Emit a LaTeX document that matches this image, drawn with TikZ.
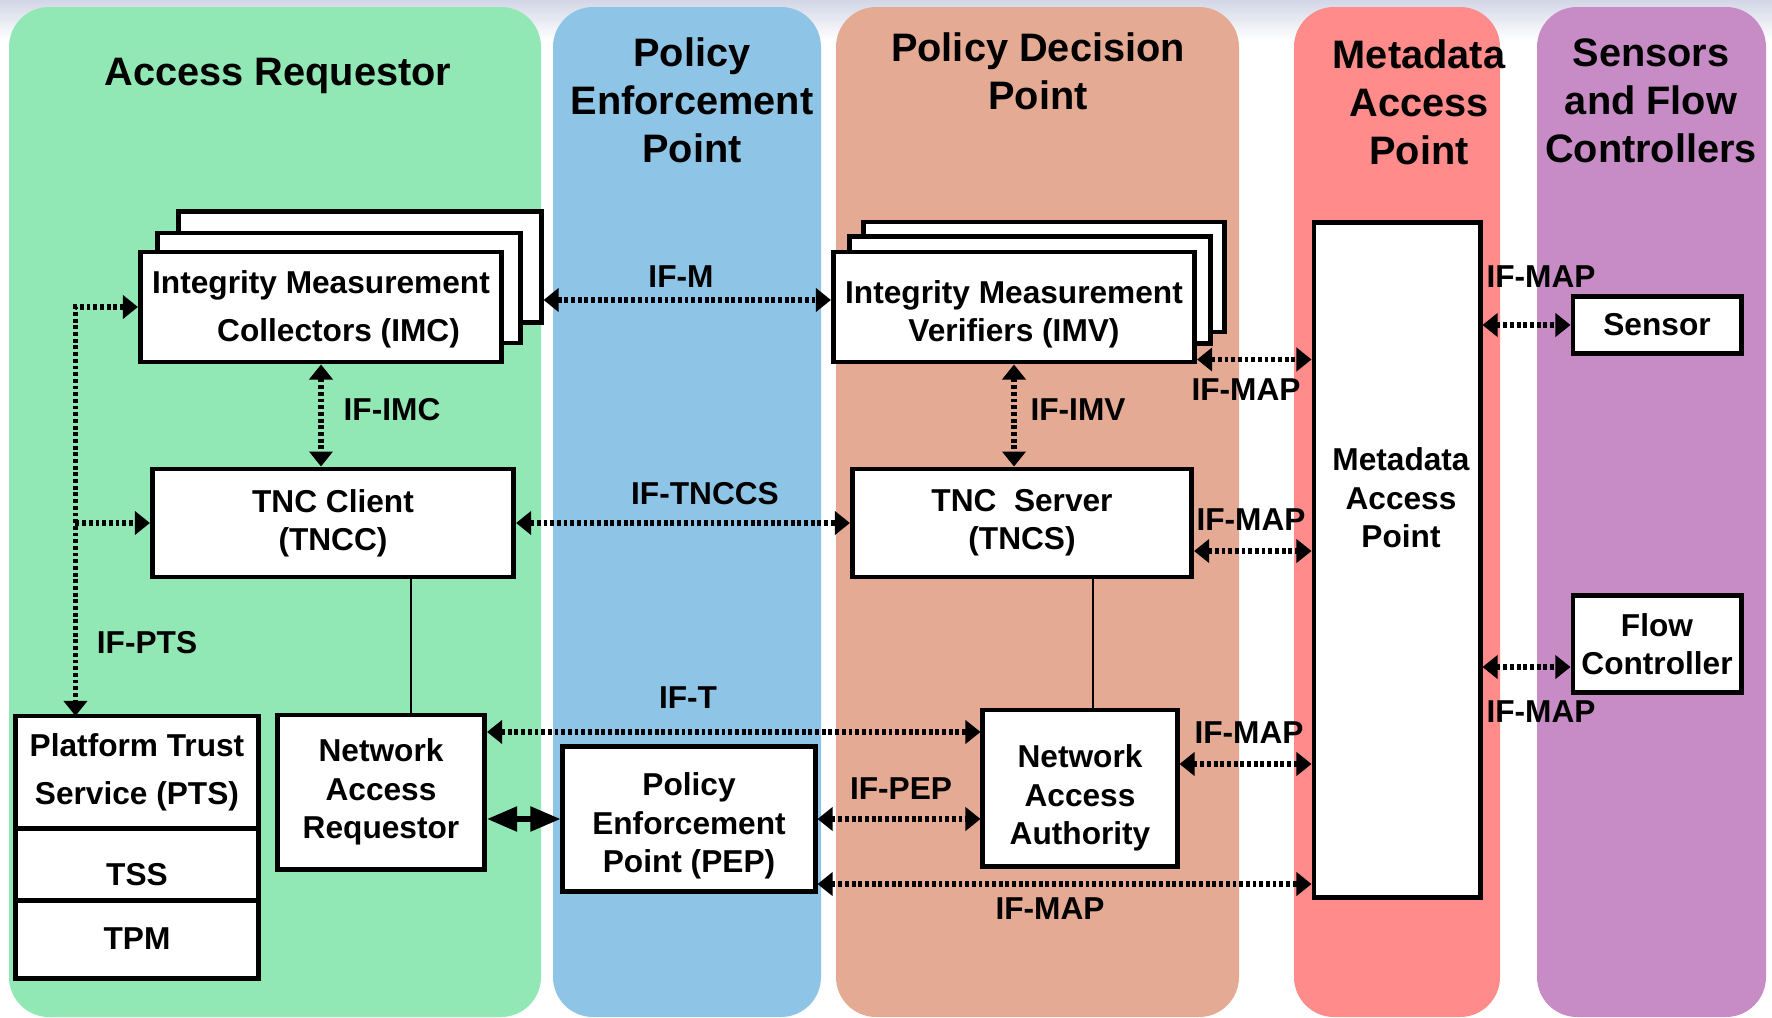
\documentclass[tikz,border=0pt]{standalone}
\usepackage{fontspec}
\setmainfont{Liberation Sans}
\usepackage{xcolor}
\usetikzlibrary{positioning,calc,arrows.meta}

\definecolor{arGreen}{RGB}{145,232,181}
\definecolor{pepBlue}{RGB}{142,197,230}
\definecolor{pdpTan}{RGB}{228,170,147}
\definecolor{mapPink}{RGB}{255,139,139}
\definecolor{sfcPurple}{RGB}{199,140,198}
\definecolor{skyTop}{RGB}{210,214,230}

\begin{document}
\begin{tikzpicture}[x=0.01cm, y=-0.01cm,
        lane/.style={rounded corners=0.4cm},
        lanetitle/.style={font=\bfseries\fontsize{11.3}{13.6}\selectfont, align=center, inner sep=0},
        block/.style={rectangle, draw, line width=1.4pt, fill=white, align=center, inner sep=0, font=\bfseries\fontsize{9}{10.9}\selectfont},
        tall/.style={font=\bfseries\fontsize{9}{13.7}\selectfont},
        lbl/.style={font=\bfseries\fontsize{9}{10.9}\selectfont, align=center, inner sep=0},
        ifarrow/.tip={Triangle[length=1.5mm,width=2.3mm]},
        iface/.style={draw, line width=1.6pt, dash pattern=on 1.1pt off 0.8pt, ifarrow-ifarrow},
        ifone/.style={iface, -ifarrow},
        link/.style={draw, line width=0.6pt},
        bus/.style={draw, line width=1.5pt, {Triangle[length=3mm,width=2.4mm]}-{Triangle[length=3mm,width=2.4mm]}}]
        \useasboundingbox (0,0) rectangle (1772,1018);
        \shade[top color=skyTop, bottom color=white] (0,0) rectangle (1772,40);
        \foreach \xa/\xb/\col in {9/541/arGreen, 553/821/pepBlue, 836/1239/pdpTan, 1294/1500/mapPink, 1537/1766/sfcPurple}
            \fill[lane, \col] (\xa,7) rectangle (\xb,1017);

        \node [lanetitle] (arTitle) at (278,76) {Access Requestor};
        \node [lanetitle] (pepTitle) at (692,100) {Policy\\Enforcement\\Point};
        \node [lanetitle] (pdpTitle) at (1038,71) {Policy Decision\\Point};
        \node [lanetitle] (mapTitle) at (1419,102) {Metadata\\Access\\Point};
        \node [lanetitle] (sfcTitle) at (1651,101) {Sensors\\and Flow\\Controllers};

        \node [block, minimum width=3.62cm, minimum height=1.11cm] (imcC) at (360,267) {};
        \node [block, minimum width=3.62cm, minimum height=1.10cm] (imcB) at (339,288) {};
        \node [block, tall, minimum width=3.61cm, minimum height=1.10cm] (imc) at (321,307) {\rule{0pt}{0.27cm}Integrity Measurement\\\hspace*{0.35cm}Collectors (IMC)};
        \node [block, minimum width=3.61cm, minimum height=1.08cm] (tncc) at (333,523) {TNC Client\\(TNCC)};

        \node [block, minimum width=3.61cm, minimum height=1.10cm] (imvC) at (1044,277) {};
        \node [block, minimum width=3.60cm, minimum height=1.07cm] (imvB) at (1030,290) {};
        \node [block, minimum width=3.61cm, minimum height=1.10cm] (imv) at (1014,307) {\rule{0pt}{0.37cm}Integrity Measurement\\Verifiers (IMV)};
        \node [block, minimum width=3.39cm, minimum height=1.08cm] (tncs) at (1022,523) {TNC~~Server\\(TNCS)};

        \node [block, minimum width=1.66cm, minimum height=6.74cm] (map) at (1397,560) {};
        \node [lbl] (mapText) at (1401,498) {Metadata\\Access\\Point};
        \node [block, minimum width=1.68cm, minimum height=0.57cm] (sensor) at (1657,325) {Sensor};
        \node [block, minimum width=1.68cm, minimum height=0.97cm] (flow) at (1657,644) {Flow\\Controller};

        \node [block, tall, outer sep=0pt, minimum width=2.43cm, minimum height=1.12cm] (pts) at (137,772) {Platform Trust\\Service (PTS)};
        \node [block, outer sep=0pt, minimum width=2.43cm, minimum height=0.72cm, below=0pt of pts] (tss) {\rule{0pt}{0.43cm}TSS};
        \node [block, outer sep=0pt, minimum width=2.43cm, minimum height=0.78cm, below=0pt of tss] (tpm) {TPM};
        \node [block, minimum width=2.07cm, minimum height=1.54cm] (nar) at (381,792) {Network\\Access\\Requestor};
        \node [block, minimum width=2.52cm, minimum height=1.45cm] (pep) at (689,819) {\rule{0pt}{0.37cm}Policy\\Enforcement\\Point (PEP)};
        \node [block, minimum width=1.94cm, minimum height=1.56cm] (naa) at (1080,788) {\rule{0pt}{0.43cm}Network\\Access\\Authority};

        \coordinate (imvM) at ([yshift=0.07cm]imv.west);
        \coordinate (ptsTop) at ([xshift=0.6cm]pts.north west);
        \coordinate (imvMap) at ([yshift=0.05cm]imv.south east);
        \coordinate (tncsMap) at ([yshift=-0.28cm]tncs.east);
        \coordinate (narT) at ([yshift=0.6cm]nar.east);
        \coordinate (naaMap) at ([yshift=0.24cm]naa.east);
        \coordinate (pepMap) at ([yshift=-0.65cm]pep.east);
        \coordinate (flowMap) at ([yshift=-0.23cm]flow.west);
        \coordinate (narUp) at ([xshift=0.3cm]nar.north);
        \coordinate (naaUp) at ([xshift=0.13cm]naa.north);

        \path [iface] (imcC.east |- imvM) -- (imvM);
        \path [iface] (imc.south) -- (imc.south |- tncc.north);
        \path [iface] (imc.west) -| (ptsTop);
        \path [ifone] (ptsTop |- tncc.west) -- (tncc.west);
        \path [iface] (tncc.east) -- (tncs.west);
        \path [iface] (imv.south) -- (imv.south |- tncs.north);
        \path [iface] (imvMap) -- (imvMap -| map.west);
        \path [iface] (tncsMap) -- (tncsMap -| map.west);
        \path [iface] (narT) -- (narT -| naa.west);
        \path [bus] (pep.west -| nar.east) -- (pep.west);
        \path [iface] (pep.east) -- (pep.east -| naa.west);
        \path [iface] (naaMap) -- (naaMap -| map.west);
        \path [iface] (pepMap) -- (pepMap -| map.west);
        \path [iface] (sensor.west -| map.east) -- (sensor.west);
        \path [iface] (flowMap -| map.east) -- (flowMap);
        \path [link] (tncc.south -| narUp) -- (narUp);
        \path [link] (tncs.south -| naaUp) -- (naaUp);

        \node [lbl] (ifM) at (681,277) {IF-M};
        \node [lbl] (ifIMC) at (392,410) {IF-IMC};
        \node [lbl] (ifPTS) at (147,643) {IF-PTS};
        \node [lbl] (ifTNCCS) at (705,494) {IF-TNCCS};
        \node [lbl] (ifIMV) at (1078,410) {IF-IMV};
        \node [lbl] (ifMapA) at (1246,390) {IF-MAP};
        \node [lbl] (ifMapB) at (1251,520) {IF-MAP};
        \node [lbl] (ifT) at (688,698) {IF-T};
        \node [lbl] (ifPEP) at (901,789) {IF-PEP};
        \node [lbl] (ifMapC) at (1249,733) {IF-MAP};
        \node [lbl] (ifMapD) at (1050,909) {IF-MAP};
        \node [lbl] (ifMapE) at (1541,277) {IF-MAP};
        \node [lbl] (ifMapF) at (1541,712) {IF-MAP};
    \end{tikzpicture}
\end{document}
